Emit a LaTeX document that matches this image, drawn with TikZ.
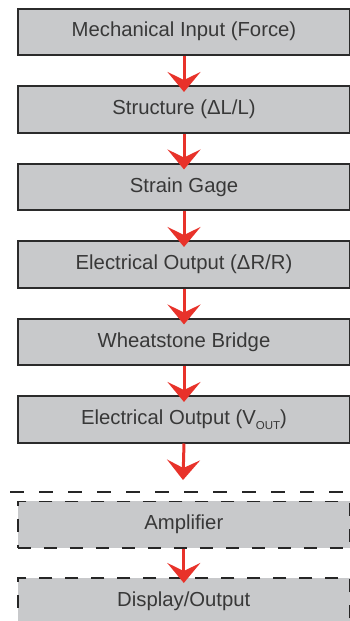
\documentclass[tikz,border=0pt]{standalone}
\usepackage{fontspec}
\setmainfont{Liberation Sans}
\usetikzlibrary{arrows.meta}
\definecolor{boxfill}{HTML}{C8C9CB}
\definecolor{boxline}{HTML}{2B2B2B}
\definecolor{arrred}{HTML}{E8322A}
\definecolor{txt}{HTML}{383838}
\begin{document}
\begin{tikzpicture}[x=1pt,y=-1pt,
  stagebox/.style={draw=boxline,line width=2pt,fill=boxfill,minimum width=332pt,minimum height=46.5pt,inner sep=0pt,anchor=north west,
    font=\fontsize{20.3}{23}\selectfont,text=txt},
  optbox/.style={stagebox,draw=black!85,dash pattern=on 13pt off 13pt,line width=1.6pt},
  flow/.style={draw=arrred,line width=3pt,-{Stealth[length=20pt,width=33pt,inset=8pt]}}]
\useasboundingbox (0,0) rectangle (350,621);
\node[stagebox] (b1) at (17,7.5) {Mechanical Input (Force)};
\node[stagebox] (b2) at (17,85) {Structure (ΔL/L)};
\node[stagebox] (b3) at (17,162.5) {Strain Gage};
\node[stagebox] (b4) at (17,240) {Electrical Output (ΔR/R)};
\node[stagebox] (b5) at (17,317.5) {Wheatstone Bridge};
\node[stagebox] (b6) at (17,395) {Electrical Output (V\raisebox{-5pt}{\fontsize{11.5}{12}\selectfont OUT})};
\node[optbox] (amp) at (17,500.5) {Amplifier};
\node[optbox] (disp) at (17,577) {Display/Output};
\coordinate (sepL) at (10,492);
\coordinate (sepR) at (352,492);
\draw[black!85,line width=1.5pt,dash pattern=on 14pt off 15pt] (sepL) -- (sepR);
\coordinate (t6) at (183,480);
\draw[flow] (b1.south) -- ([yshift=-7pt]b2.north);
\draw[flow] (b2.south) -- ([yshift=-7pt]b3.north);
\draw[flow] (b3.south) -- ([yshift=-7pt]b4.north);
\draw[flow] (b4.south) -- ([yshift=-7pt]b5.north);
\draw[flow] (b5.south) -- ([yshift=-7pt]b6.north);
\draw[flow] (b6.south) -- (t6);
\draw[flow] (amp.south) -- ([yshift=-6pt]disp.north);
\end{tikzpicture}
\end{document}
